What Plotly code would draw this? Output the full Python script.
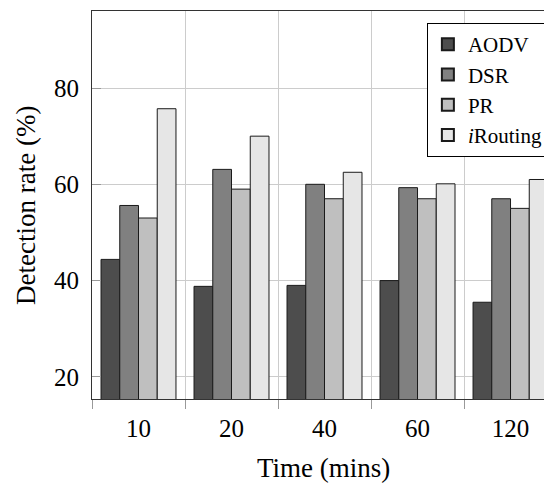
import plotly.graph_objects as go

categories = ["10", "20", "40", "60", "120"]
aodv = [44.4, 38.8, 39.0, 40.0, 35.5]
dsr = [55.6, 63.1, 60.0, 59.3, 57.0]
pr = [53.0, 59.0, 57.0, 57.0, 55.0]
irouting = [75.7, 70.0, 62.5, 60.1, 61.0]

series = [
    ("AODV", aodv, "#4d4d4d"),
    ("DSR", dsr, "#808080"),
    ("PR", pr, "#bfbfbf"),
    ("<i>i</i>Routing", irouting, "#e6e6e6"),
]

xpos = list(range(len(categories)))
font = "Liberation Serif"

fig = go.Figure()
for name, vals, col in series:
    fig.add_trace(go.Bar(
        x=xpos, y=vals, name=name,
        marker=dict(color=col, line=dict(color="#1a1a1a", width=1)),
    ))

# page body has an 8px default margin; figure is sized/offset to compensate
fig.update_layout(
    width=544, height=477,
    margin=dict(l=84, r=0, t=3, b=86),
    paper_bgcolor="white", plot_bgcolor="white",
    barmode="group", bargap=0.194, bargroupgap=0,
    font=dict(family=font, size=24, color="black"),
    showlegend=True,
    legend=dict(
        x=0.728, y=0.969, xanchor="left", yanchor="top",
        bgcolor="white", bordercolor="black", borderwidth=1,
        font=dict(family=font, size=21),
        itemsizing="constant", tracegroupgap=0,
    ),
    xaxis=dict(
        range=[-0.5, 4.446], automargin=False,
        tickmode="array", tickvals=xpos, ticktext=categories,
        showgrid=False, ticks="", zeroline=False,
        showline=True, linecolor="#333333", linewidth=1, mirror=True,
        minor=dict(tick0=-0.5, dtick=1, showgrid=True, gridcolor="#cccccc",
                   gridwidth=1, ticks="outside", ticklen=9, tickcolor="#999999"),
        tickfont=dict(size=25), ticklabelstandoff=7,
    ),
    yaxis=dict(
        range=[15.4, 96], automargin=False,
        tickvals=[20, 40, 60, 80],
        showgrid=True, gridcolor="#cccccc", gridwidth=1,
        ticks="inside", ticklen=9, tickcolor="#999999",
        zeroline=False,
        showline=True, linecolor="#333333", linewidth=1, mirror=False,
        tickfont=dict(size=25), ticklabelstandoff=7,
    ),
    annotations=[
        dict(text="Time (mins)", xref="paper", yref="paper", x=0.504, y=-0.178,
             xanchor="center", yanchor="middle", showarrow=False,
             font=dict(size=27)),
        dict(text="Detection rate (%)", xref="paper", yref="paper", x=-0.1435, y=0.5,
             xanchor="center", yanchor="middle", textangle=-90, showarrow=False,
             font=dict(size=27)),
    ],
)

fig.write_html("out.html")
